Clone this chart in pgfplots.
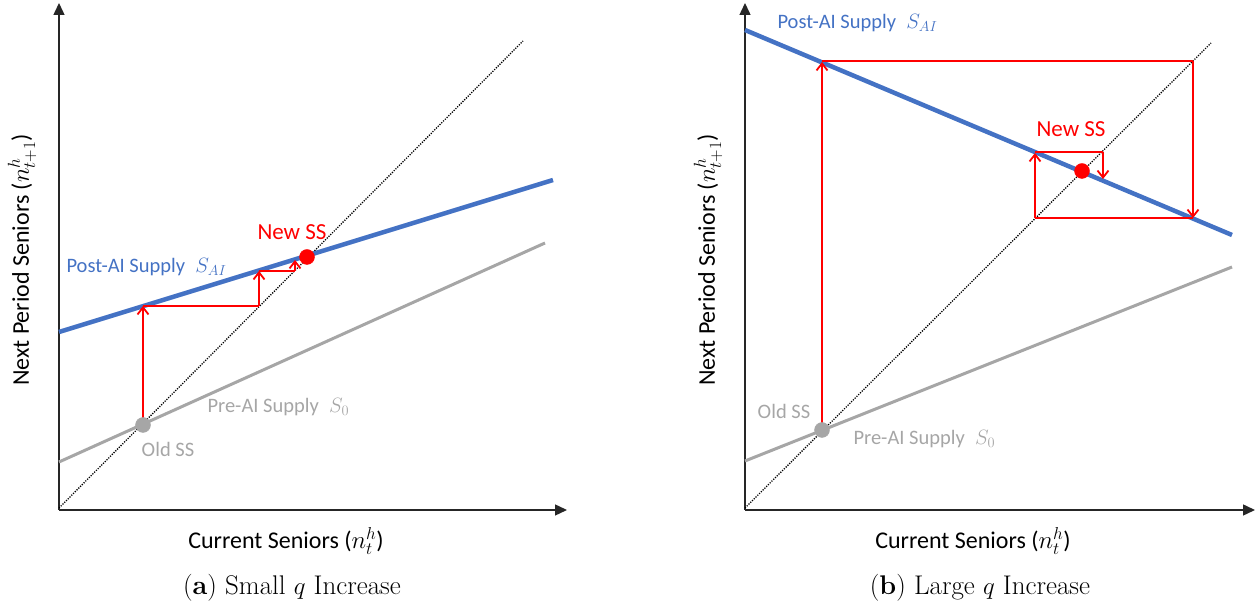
\documentclass[border=0pt]{standalone}
\usepackage{pgfplots}
\pgfplotsset{compat=1.18}
\usetikzlibrary{arrows.meta}
\usepackage{fontspec}
\setsansfont{Carlito}

\definecolor{aiblue}{HTML}{4472C4}
\definecolor{oldgray}{HTML}{A6A6A6}
\definecolor{cobred}{HTML}{FF0000}

\tikzset{
  supplyAI/.style={aiblue, line width=4.5pt},
  supplyZero/.style={oldgray, line width=3pt},
  diag/.style={black, line width=1.3pt, dash pattern=on 1.2pt off 1.3pt},
  cob/.style={cobred, line width=1.8pt},
  cobarrow/.style={cob, -{Straight Barb[length=7pt,width=11pt,line width=1.8pt]}},
  txt/.style={font=\sffamily\fontsize{20.5}{24}\selectfont},
  sstxt/.style={font=\sffamily\fontsize{23}{27}\selectfont},
  captxt/.style={font=\fontsize{27}{31}\selectfont},
}
\pgfplotsset{
  phase/.style={
    x=1pt, y=1pt, axis lines=left, ticks=none, clip=false, enlargelimits=false,
    axis line style={line width=1.4pt, black!85, -{Triangle[length=12pt,width=11pt]}},
    label style={font=\sffamily\fontsize{24}{28}\selectfont, anchor=center},
  },
  ssdot/.style={only marks, mark=*, mark size=7.5pt},
}

\begin{document}
\begin{tikzpicture}
\path[use as bounding box] (0,0) rectangle (1258pt,609pt);

% ---------------- (a) small q increase ----------------
\begin{axis}[phase, at={(59pt,99pt)}, anchor=south west,
  xmin=59, xmax=567, ymin=99, ymax=606,
  xlabel={Current Seniors ($n^h_t$)},
  ylabel={Next Period Seniors ($n^h_{t+1}$)},
  xlabel style={at={(axis cs:286,68)}},
  ylabel style={at={(axis cs:22,349)}}]
  \addplot[diag] coordinates {(59,101) (523,568)};
  \addplot[supplyZero] coordinates {(59,147) (545,366)};
  \addplot[supplyAI] coordinates {(59,277) (553,429)};
  % cobweb path
  \addplot[cobarrow] coordinates {(143,184) (143,303)};
  \addplot[cob] coordinates {(143,303) (259,303)};
  \addplot[cobarrow] coordinates {(259,303) (259,338)};
  \addplot[cob] coordinates {(259,338) (295,338)};
  \addplot[cobarrow] coordinates {(295,338) (295,349)};
  \addplot[ssdot, oldgray] coordinates {(143,184)};
  \addplot[ssdot, cobred] coordinates {(307,352)};
  \node[sstxt, text=cobred] at (axis cs:292,377) {New SS};
  \node[txt, text=aiblue, anchor=west] at (axis cs:63,342) {Post-AI Supply\enspace$S_{AI}$};
  \node[txt, text=oldgray, anchor=west] at (axis cs:204,202) {Pre-AI Supply\enspace$S_0$};
  \node[txt, text=oldgray] at (axis cs:168,160) {Old SS};
  \node[captxt] at (axis cs:292,21) {(\textbf{a}) Small $q$ Increase};
\end{axis}

% ---------------- (b) large q increase ----------------
\begin{axis}[phase, at={(745pt,99pt)}, anchor=south west,
  xmin=745, xmax=1255, ymin=99, ymax=606,
  xlabel={Current Seniors ($n^h_t$)},
  ylabel={Next Period Seniors ($n^h_{t+1}$)},
  xlabel style={at={(axis cs:973,68)}},
  ylabel style={at={(axis cs:708,349)}}]
  \addplot[diag] coordinates {(745,101) (1211,566)};
  \addplot[supplyZero] coordinates {(745,148) (1232,342)};
  \addplot[supplyAI] coordinates {(745,579) (1232,374)};
  % cobweb path
  \addplot[cobarrow] coordinates {(822,179) (822,547)};
  \addplot[cob] coordinates {(822,548) (1193,548)};
  \addplot[cobarrow] coordinates {(1193,548) (1193,391)};
  \addplot[cob] coordinates {(1193,391) (1035,391)};
  \addplot[cobarrow] coordinates {(1035,391) (1035,456)};
  \addplot[cob] coordinates {(1035,457) (1103,457)};
  \addplot[cobarrow] coordinates {(1103,457) (1103,430)};
  \addplot[ssdot, oldgray] coordinates {(822,179)};
  \addplot[ssdot, cobred] coordinates {(1082,438)};
  \node[sstxt, text=cobred] at (axis cs:1071,480) {New SS};
  \node[txt, text=aiblue, anchor=west] at (axis cs:774,586) {Post-AI Supply\enspace$S_{AI}$};
  \node[txt, text=oldgray, anchor=west] at (axis cs:850,170) {Pre-AI Supply\enspace$S_0$};
  \node[txt, text=oldgray] at (axis cs:784,198) {Old SS};
  \node[captxt] at (axis cs:980,21) {(\textbf{b}) Large $q$ Increase};
\end{axis}
\end{tikzpicture}
\end{document}
